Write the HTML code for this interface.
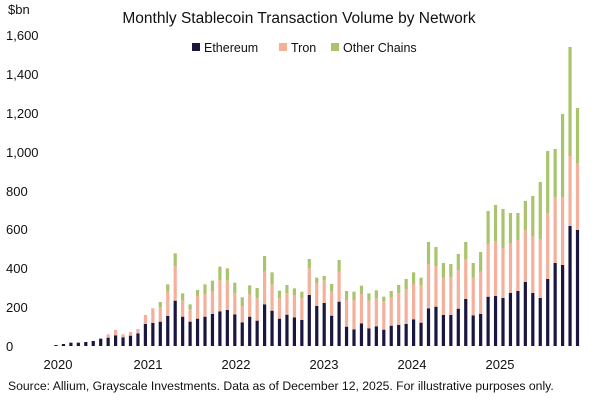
<!DOCTYPE html>
<html><head><meta charset="utf-8"><style>
body{margin:0;background:#fff;width:600px;height:400px;overflow:hidden;font-family:"Liberation Sans",sans-serif}
svg{display:block}
text{font-family:"Liberation Sans",sans-serif;fill:#111}
</style></head><body>
<svg id="s" width="600" height="400" xmlns="http://www.w3.org/2000/svg">
<text x="299" y="23" font-size="15.5" text-anchor="middle">Monthly Stablecoin Transaction Volume by Network</text>
<rect x="192" y="43" width="8" height="8" fill="#1a1640"/><text x="204" y="52" font-size="12.5">Ethereum</text>
<rect x="279" y="43" width="8" height="8" fill="#f4b09a"/><text x="291" y="52" font-size="12.5">Tron</text>
<rect x="331" y="43" width="8" height="8" fill="#a9c46c"/><text x="343" y="52" font-size="12.5">Other Chains</text>
<text x="8" y="14" font-size="13">$bn</text>
<g font-size="13">
<text x="6" y="40">1,600</text><text x="6" y="79">1,400</text><text x="6" y="118">1,200</text><text x="6" y="157">1,000</text>
<text x="6" y="196">800</text><text x="6" y="234">600</text><text x="6" y="273">400</text><text x="6" y="312">200</text><text x="6" y="351">0</text>
</g>
<g font-size="13" text-anchor="middle">
<text x="58" y="369">2020</text><text x="148" y="369">2021</text><text x="236" y="369">2022</text><text x="324" y="369">2023</text><text x="412" y="369">2024</text><text x="500" y="369">2025</text>
</g>
<text x="8" y="390" font-size="12.2">Source: Allium, Grayscale Investments. Data as of December 12, 2025. For illustrative purposes only.</text>
<g id="bars"></g>
</svg>
<script>
var z=[[345],[342],[338],[338],[336],[333],[326],[323,313],[316,300],[322,313],[317,306],[310,297],[282,255],[279,235],[275,232,216],[258,185,163],[212,108,70],[260,212,190],[275,237,223],[266,198,180],[260,192,163],[252,183,152],[244,150,110],[240,152,115],[253,190,158],[277,228,202],[260,193,166],[272,205,174],[223,125,78],[242,163,127],[266,205,182],[254,190,165],[262,195,175],[270,205,185],[195,115,87],[228,160,143],[219,152,138],[257,185,162],[215,125,90],[290,210,183],[298,210,185],[280,192,167],[295,212,190],[289,205,181],[299,215,200],[287,203,183],[285,190,165],[282,178,147],[268,162,127],[278,165,143]];
var a=[];
z.forEach(function(v){var e=230+v[0]/3,t=230+(v[1]||v[0])/3,o=230+(v[2]||v[1]||v[0])/3;a.push([e,t,o]);});
var tot2=[242,247,263,264,254,242,263,252];
var eth2=[235,230,255,255,236,207,256,252],tr2=[103,108,143,142,120,87,143,125];
for(var i=0;i<8;i++)a.push([230+eth2[i]/3,230+tr2[i]/3,tot2[i]]);
var e3=[296.7,296,298,293,291,282,293,298,279,263,265,226,230],
t3=[244,241,248,243,240,230,236,239,213,197,197,156,163],
o3=[211,205,209,213,213,201,196,182,151,149,114,47,108];
for(i=0;i<13;i++)a.push([e3[i],t3[i],o3[i]]);
var g=document.getElementById('bars'),h='',B=346,w=3.2;
a.forEach(function(v,i){var x=56+i*7.45-w/2;
h+='<rect x="'+x+'" y="'+v[0]+'" width="'+w+'" height="'+(B-v[0])+'" fill="#1a1640"/>';
if(v[1]<v[0])h+='<rect x="'+x+'" y="'+v[1]+'" width="'+w+'" height="'+(v[0]-v[1])+'" fill="#f4b09a"/>';
if(v[2]<v[1])h+='<rect x="'+x+'" y="'+v[2]+'" width="'+w+'" height="'+(v[1]-v[2])+'" fill="#a9c46c"/>';});
g.innerHTML=h;
</script>
</body></html>
